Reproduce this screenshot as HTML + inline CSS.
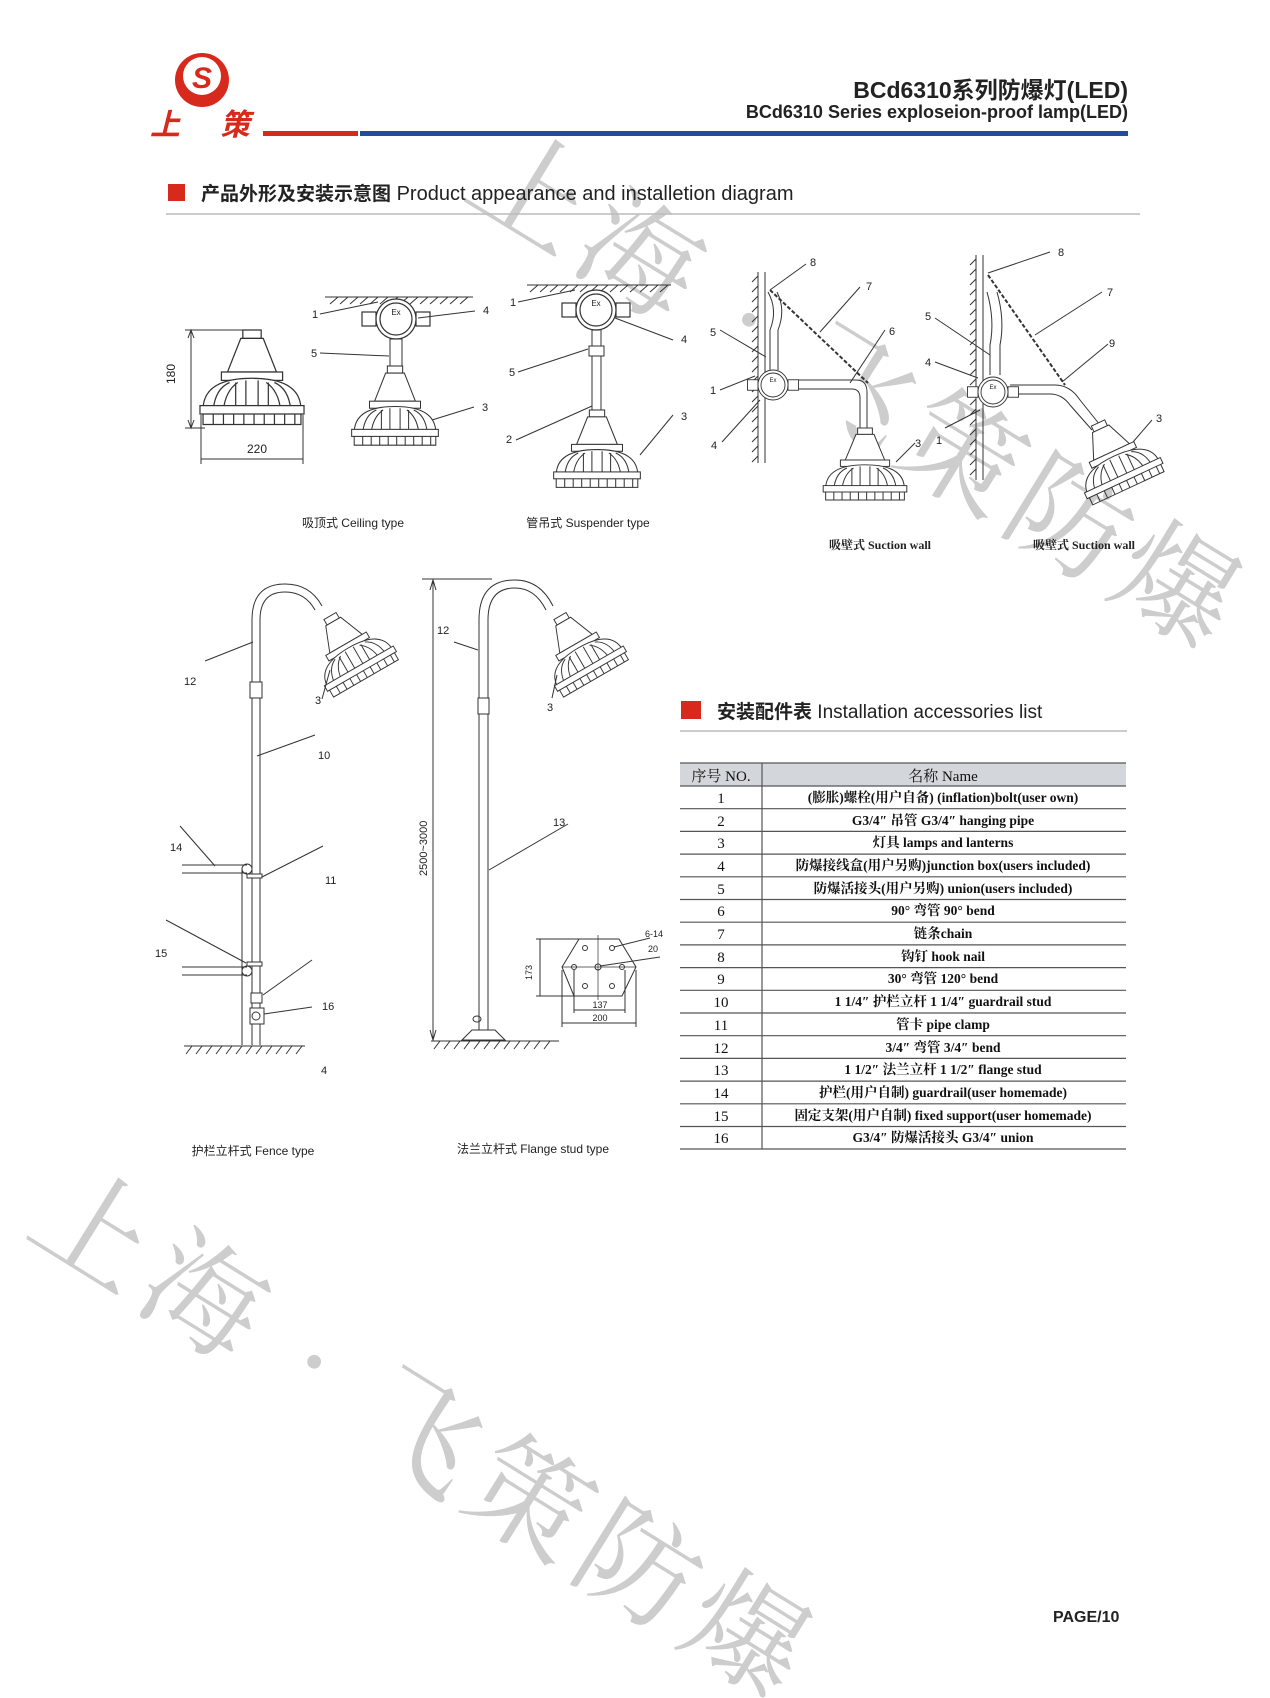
<!DOCTYPE html>
<html><head><meta charset="utf-8"><style>
html,body{margin:0;padding:0;background:#fff}
svg{display:block}
.t{font-family:"Liberation Sans","Noto Sans CJK SC",sans-serif}
.n{font-family:"Liberation Sans Narrow","Liberation Sans","Noto Sans CJK SC",sans-serif}
.s{font-family:"Liberation Serif","Noto Serif CJK SC",serif}
</style></head><body>
<svg width="1270" height="1698" viewBox="0 0 1270 1698" xmlns="http://www.w3.org/2000/svg">
<defs>
<g id="lamp" fill="#fff" stroke="#333" stroke-width="1.2">
  <rect x="-9" y="0" width="18" height="8"/>
  <polygon points="-11,8 11,8 24,40 -24,40"/>
  <rect x="-30" y="40" width="60" height="8"/>
  <path d="M-48,76 Q-48,46 0,46 Q48,46 48,76 Z"/>
  <path d="M-38,76 Q-36,56 -22,50 M-28,76 Q-26,58 -14,50 M-16,76 V50 M-6,76 V48 M6,76 V48 M16,76 V50 M28,76 Q26,58 14,50 M38,76 Q36,56 22,50" fill="none"/>
  <rect x="-51" y="72" width="102" height="8"/>
  <path d="M-48,80 V90 H48 V80 M-38,80 V90 M-28,80 V90 M-18,80 V90 M-8,80 V90 M2,80 V90 M12,80 V90 M22,80 V90 M32,80 V90 M42,80 V90" fill="none"/>
</g>
<g id="jbox" fill="#fff" stroke="#333" stroke-width="1.2">
  <rect x="-34" y="-7" width="14" height="14"/><rect x="20" y="-7" width="14" height="14"/>
  <circle r="20"/><circle r="16" fill="none"/>
  <text x="0" y="-4" font-size="8" text-anchor="middle" stroke="none" fill="#222" class="t">Ex</text>
</g>
</defs>

<g fill="#cdcdcd" font-family="'Noto Serif CJK SC','Noto Sans CJK SC',serif" font-size="118">
<text transform="translate(487,152) rotate(31.5)" dominant-baseline="central" letter-spacing="8">上海•飞策防爆</text>
<text transform="translate(50,1190) rotate(31.9)" dominant-baseline="central" letter-spacing="10">上海•飞策防爆</text>
</g>

<circle cx="202" cy="80" r="27" fill="#d8291d"/>
<circle cx="202" cy="76" r="19" fill="#fff"/>
<text x="202" y="88" font-size="30" font-weight="bold" text-anchor="middle" fill="#d8291d" class="t" font-style="italic">S</text>
<text x="150" y="135" font-size="30" font-weight="bold" fill="#d8291d" font-style="italic" class="t" textLength="100">上策</text>
<rect x="263" y="131" width="95" height="5" fill="#d8291d"/>
<rect x="360" y="131" width="768" height="5" fill="#1f4f9c"/>
<text x="1128" y="98" font-size="23" text-anchor="end" fill="#222" class="n" font-weight="bold">BCd6310系列防爆灯(LED)</text>
<text x="1128" y="118" font-size="18" text-anchor="end" fill="#222" class="n" font-weight="bold">BCd6310 Series exploseion-proof lamp(LED)</text>

<rect x="168" y="184" width="17" height="17" fill="#d8291d"/>
<text x="201" y="200" font-size="20" fill="#222" class="n"><tspan font-weight="bold" class="t" font-size="19">产品外形及安装示意图</tspan> Product appearance and installetion diagram</text>
<line x1="166" y1="214" x2="1140" y2="214" stroke="#bbb" stroke-width="1.5"/>

<g stroke="#333" stroke-width="1" fill="none" class="t">
<use href="#lamp" transform="translate(252,330) scale(1.02,1.05)"/>
<line x1="191" y1="330" x2="191" y2="428"/><line x1="185" y1="330" x2="245" y2="330"/><line x1="185" y1="428" x2="205" y2="428"/>
<path d="M188,338 L191,330 L194,338 M188,420 L191,428 L194,420" />
<line x1="201" y1="459" x2="303" y2="459"/><line x1="201" y1="415" x2="201" y2="464"/><line x1="303" y1="415" x2="303" y2="464"/>
<line x1="325" y1="297" x2="473" y2="297"/>
<path d="M330,304 l8,-7 M340,304 l8,-7 M350,304 l8,-7 M360,304 l8,-7 M370,304 l8,-7 M380,304 l8,-7 M390,304 l8,-7 M400,304 l8,-7 M410,304 l8,-7 M420,304 l8,-7 M430,304 l8,-7 M440,304 l8,-7 M450,304 l8,-7 M460,304 l8,-7"/>
<rect x="390" y="339" width="12" height="28" fill="#fff"/>
<use href="#jbox" transform="translate(396,319)"/>
<use href="#lamp" transform="translate(395,366) scale(0.85,0.88)"/>
<line x1="320" y1="314" x2="378" y2="302"/><line x1="475" y1="311" x2="418" y2="318"/><line x1="320" y1="353" x2="389" y2="356"/><line x1="474" y1="407" x2="432" y2="420"/>
<line x1="527" y1="285" x2="671" y2="285"/>
<path d="M530,292 l8,-7 M540,292 l8,-7 M550,292 l8,-7 M560,292 l8,-7 M570,292 l8,-7 M580,292 l8,-7 M590,292 l8,-7 M600,292 l8,-7 M610,292 l8,-7 M620,292 l8,-7 M630,292 l8,-7 M640,292 l8,-7 M650,292 l8,-7 M660,292 l8,-7"/>
<rect x="592" y="328" width="9" height="82" fill="#fff"/>
<rect x="589" y="346" width="15" height="10" fill="#fff"/>
<use href="#jbox" transform="translate(596,310)"/>
<use href="#lamp" transform="translate(597,410) scale(0.85,0.86)"/>
<line x1="518" y1="302" x2="575" y2="290"/><line x1="673" y1="340" x2="615" y2="318"/><line x1="518" y1="372" x2="588" y2="349"/><line x1="516" y1="440" x2="592" y2="406"/><line x1="673" y1="415" x2="640" y2="455"/>
<line x1="758" y1="272" x2="758" y2="463"/><line x1="765" y1="272" x2="765" y2="463"/>
<path d="M752,282 l6,-6 M752,292 l6,-6 M752,302 l6,-6 M752,312 l6,-6 M752,322 l6,-6 M752,332 l6,-6 M752,342 l6,-6 M752,352 l6,-6 M752,362 l6,-6 M752,372 l6,-6 M752,382 l6,-6 M752,392 l6,-6 M752,402 l6,-6 M752,412 l6,-6 M752,422 l6,-6 M752,432 l6,-6 M752,442 l6,-6 M752,452 l6,-6 M752,462 l6,-6"/>
<path d="M768,292 Q778,310 770,330 V370 M777,292 Q786,310 778,330 V370" />
<path d="M790,380 H856 Q867,380 867,392 V428 M790,389 H852 Q860,389 860,398 V428" fill="#fff"/>
<path d="M770,290 L868,383" stroke-dasharray="4,2" stroke-width="2"/>
<use href="#jbox" transform="translate(773,385) scale(0.75)"/>
<use href="#lamp" transform="translate(865,428) scale(0.82,0.8)"/>
<line x1="770" y1="290" x2="806" y2="264"/><line x1="820" y1="332" x2="860" y2="287"/><line x1="720" y1="330" x2="766" y2="357"/><line x1="850" y1="383" x2="885" y2="330"/><line x1="720" y1="390" x2="755" y2="376"/><line x1="722" y1="442" x2="760" y2="400"/><line x1="915" y1="443" x2="896" y2="462"/>
<line x1="976" y1="255" x2="976" y2="480"/><line x1="983" y1="255" x2="983" y2="480"/>
<path d="M970,265 l6,-6 M970,275 l6,-6 M970,285 l6,-6 M970,295 l6,-6 M970,305 l6,-6 M970,315 l6,-6 M970,325 l6,-6 M970,335 l6,-6 M970,345 l6,-6 M970,355 l6,-6 M970,365 l6,-6 M970,375 l6,-6 M970,385 l6,-6 M970,395 l6,-6 M970,405 l6,-6 M970,415 l6,-6 M970,425 l6,-6 M970,435 l6,-6 M970,445 l6,-6 M970,455 l6,-6 M970,465 l6,-6 M970,475 l6,-6"/>
<path d="M987,292 Q995,320 990,345 V375 M997,292 Q1005,320 1000,345 V375"/>
<path d="M1010,385 H1055 Q1070,385 1080,400 L1100,425 M1010,394 H1050 Q1062,394 1070,405 L1092,430" fill="#fff"/>
<path d="M988,275 L1065,385" stroke-dasharray="4,2" stroke-width="2"/>
<use href="#jbox" transform="translate(993,392) scale(0.75)"/>
<use href="#lamp" transform="translate(1098,423) rotate(-25) scale(0.82,0.8)"/>
<line x1="988" y1="273" x2="1050" y2="252"/><line x1="1035" y1="335" x2="1102" y2="292"/><line x1="935" y1="318" x2="990" y2="355"/><line x1="1062" y1="382" x2="1108" y2="344"/><line x1="935" y1="362" x2="978" y2="378"/><line x1="945" y1="428" x2="980" y2="410"/><line x1="1152" y1="420" x2="1133" y2="442"/>
<path d="M252,1045 V620 Q252,584 285,584 Q310,584 322,606 M260,1045 V620 Q260,592 285,592 Q305,592 315,610"/>
<use href="#lamp" transform="translate(330,616) rotate(-30) scale(0.78,0.8)"/>
<rect x="250" y="682" width="12" height="16" fill="#fff"/>
<line x1="184" y1="1046" x2="305" y2="1046"/>
<path d="M186,1054 l6,-8 M196,1054 l6,-8 M206,1054 l6,-8 M216,1054 l6,-8 M226,1054 l6,-8 M236,1054 l6,-8 M246,1054 l6,-8 M256,1054 l6,-8 M266,1054 l6,-8 M276,1054 l6,-8 M286,1054 l6,-8 M296,1054 l6,-8"/>
<line x1="182" y1="865" x2="247" y2="865"/><line x1="182" y1="873" x2="247" y2="873"/>
<line x1="182" y1="967" x2="247" y2="967"/><line x1="182" y1="975" x2="247" y2="975"/>
<line x1="242" y1="870" x2="242" y2="1045"/><circle cx="247" cy="869" r="5"/><circle cx="247" cy="971" r="5"/>
<rect x="247" y="874" width="15" height="4" fill="#fff"/><rect x="247" y="962" width="15" height="4" fill="#fff"/>
<rect x="251" y="993" width="11" height="10" fill="#fff"/><rect x="250" y="1008" width="14" height="16" fill="#fff"/><circle cx="256" cy="1016" r="4"/>
<line x1="205" y1="661" x2="253" y2="642"/><line x1="322" y1="699" x2="330" y2="670"/><line x1="315" y1="735" x2="257" y2="756"/><line x1="180" y1="826" x2="215" y2="866"/><line x1="323" y1="846" x2="262" y2="877"/><line x1="166" y1="920" x2="246" y2="963"/><line x1="312" y1="960" x2="263" y2="995"/><line x1="312" y1="1007" x2="264" y2="1014"/>
<line x1="422" y1="579" x2="492" y2="579"/><line x1="433" y1="580" x2="433" y2="1040"/>
<path d="M430,590 L433,580 L436,590 M430,1030 L433,1040 L436,1030"/>
<path d="M479,1038 V620 Q479,580 515,580 Q540,580 553,606 M488,1038 V620 Q488,588 515,588 Q535,588 546,610"/>
<use href="#lamp" transform="translate(560,616) rotate(-30) scale(0.78,0.8)"/>
<rect x="478" y="698" width="11" height="16" fill="#fff"/>
<path d="M462,1040 L472,1030 H495 L505,1040 Z" fill="#fff"/><ellipse cx="477" cy="1019" rx="4" ry="3"/>
<line x1="431" y1="1041" x2="559" y2="1041"/>
<path d="M434,1049 l6,-8 M444,1049 l6,-8 M454,1049 l6,-8 M464,1049 l6,-8 M474,1049 l6,-8 M484,1049 l6,-8 M494,1049 l6,-8 M504,1049 l6,-8 M514,1049 l6,-8 M524,1049 l6,-8 M534,1049 l6,-8 M544,1049 l6,-8"/>
<line x1="454" y1="642" x2="478" y2="650"/><line x1="552" y1="698" x2="557" y2="675"/><line x1="568" y1="824" x2="489" y2="870"/>
<polygon points="579,939 619,939 636,967 622,996 574,996 562,967"/>
<line x1="598" y1="935" x2="598" y2="1000" stroke-width="0.7"/><line x1="562" y1="967" x2="636" y2="967" stroke-width="0.7"/>
<circle cx="585" cy="948" r="2.5"/><circle cx="612" cy="948" r="2.5"/><circle cx="574" cy="967" r="2.5"/><circle cx="598" cy="967" r="3"/><circle cx="622" cy="967" r="2.5"/><circle cx="585" cy="986" r="2.5"/><circle cx="612" cy="986" r="2.5"/>
<line x1="540" y1="939" x2="540" y2="996"/><line x1="536" y1="939" x2="580" y2="939"/><line x1="536" y1="996" x2="575" y2="996"/>
<line x1="574" y1="1010" x2="625" y2="1010"/><line x1="562" y1="1023" x2="636" y2="1023"/><line x1="574" y1="970" x2="574" y2="1013"/><line x1="625" y1="970" x2="625" y2="1013"/><line x1="562" y1="970" x2="562" y2="1027"/><line x1="636" y1="970" x2="636" y2="1027"/>
<line x1="614" y1="947" x2="650" y2="938"/><line x1="600" y1="966" x2="660" y2="957"/>
</g>

<g font-size="11" fill="#222" class="t">
<text x="175" y="384" transform="rotate(-90 175 384)" font-size="12">180</text>
<text x="257" y="453" text-anchor="middle" font-size="12">220</text>
<text x="312" y="318">1</text><text x="483" y="314">4</text><text x="311" y="357">5</text><text x="482" y="411">3</text>
<text x="510" y="306">1</text><text x="681" y="343">4</text><text x="509" y="376">5</text><text x="506" y="443">2</text><text x="681" y="420">3</text>
<text x="810" y="266">8</text><text x="866" y="290">7</text><text x="710" y="336">5</text><text x="889" y="335">6</text><text x="710" y="394">1</text><text x="711" y="449">4</text><text x="915" y="447">3</text>
<text x="1058" y="256">8</text><text x="1107" y="296">7</text><text x="925" y="320">5</text><text x="1109" y="347">9</text><text x="925" y="366">4</text><text x="936" y="444">1</text><text x="1156" y="422">3</text>
<text x="184" y="685">12</text><text x="315" y="704">3</text><text x="318" y="759">10</text><text x="170" y="851">14</text><text x="325" y="884">11</text><text x="155" y="957">15</text><text x="322" y="1010">16</text><text x="321" y="1074">4</text>
<text x="437" y="634">12</text><text x="547" y="711">3</text><text x="553" y="826">13</text>
<text x="427" y="876" transform="rotate(-90 427 876)">2500~3000</text>
<text x="532" y="980" transform="rotate(-90 532 980)" font-size="9">173</text>
<text x="600" y="1008" text-anchor="middle" font-size="9">137</text>
<text x="600" y="1021" text-anchor="middle" font-size="9">200</text>
<text x="645" y="937" font-size="9">6-14</text><text x="648" y="952" font-size="9">20</text>
<text x="353" y="527" text-anchor="middle" font-size="12">吸顶式 Ceiling type</text>
<text x="588" y="527" text-anchor="middle" font-size="12">管吊式 Suspender type</text>
<text x="880" y="549" text-anchor="middle" font-size="12" class="s" font-weight="bold">吸壁式 Suction wall</text>
<text x="1084" y="549" text-anchor="middle" font-size="12" class="s" font-weight="bold">吸壁式 Suction wall</text>
<text x="253" y="1155" text-anchor="middle" font-size="12">护栏立杆式 Fence type</text>
<text x="533" y="1153" text-anchor="middle" font-size="12">法兰立杆式 Flange stud type</text>
</g>

<rect x="681" y="701" width="20" height="18" fill="#d8291d"/>
<text x="717" y="718" font-size="19" fill="#222" class="t"><tspan font-weight="bold">安装配件表</tspan> Installation accessories list</text>
<line x1="680" y1="731" x2="1127" y2="731" stroke="#bbb" stroke-width="1.5"/>

<rect x="680" y="763" width="446" height="23" fill="#d3d7db"/>
<g stroke="#555" stroke-width="1.2">
<line x1="680" y1="763" x2="1126" y2="763"/>
<line x1="680" y1="786" x2="1126" y2="786"/><line x1="680" y1="808.7" x2="1126" y2="808.7"/><line x1="680" y1="831.4" x2="1126" y2="831.4"/><line x1="680" y1="854.1" x2="1126" y2="854.1"/><line x1="680" y1="876.8" x2="1126" y2="876.8"/><line x1="680" y1="899.5" x2="1126" y2="899.5"/><line x1="680" y1="922.2" x2="1126" y2="922.2"/><line x1="680" y1="944.9" x2="1126" y2="944.9"/><line x1="680" y1="967.6" x2="1126" y2="967.6"/><line x1="680" y1="990.3" x2="1126" y2="990.3"/><line x1="680" y1="1013" x2="1126" y2="1013"/><line x1="680" y1="1035.7" x2="1126" y2="1035.7"/><line x1="680" y1="1058.4" x2="1126" y2="1058.4"/><line x1="680" y1="1081.1" x2="1126" y2="1081.1"/><line x1="680" y1="1103.8" x2="1126" y2="1103.8"/><line x1="680" y1="1126.5" x2="1126" y2="1126.5"/><line x1="680" y1="1149" x2="1126" y2="1149"/>
<line x1="762" y1="763" x2="762" y2="1149"/>
</g>
<g font-size="15" fill="#111" class="s" text-anchor="middle">
<text x="721" y="781">序号 NO.</text><text x="943" y="781">名称 Name</text>
<g font-size="15"><text x="721" y="803">1</text><text x="721" y="826">2</text><text x="721" y="848">3</text><text x="721" y="871">4</text><text x="721" y="894">5</text><text x="721" y="916">6</text><text x="721" y="939">7</text><text x="721" y="962">8</text><text x="721" y="984">9</text><text x="721" y="1007">10</text><text x="721" y="1030">11</text><text x="721" y="1053">12</text><text x="721" y="1075">13</text><text x="721" y="1098">14</text><text x="721" y="1121">15</text><text x="721" y="1143">16</text></g>
<g font-size="13.5" font-weight="bold">
<text x="943" y="802">(膨胀)螺栓(用户自备) (inflation)bolt(user own)</text>
<text x="943" y="825">G3/4″  吊管  G3/4″  hanging pipe</text>
<text x="943" y="847">灯具  lamps and lanterns</text>
<text x="943" y="870">防爆接线盒(用户另购)junction box(users included)</text>
<text x="943" y="893">防爆活接头(用户另购) union(users included)</text>
<text x="943" y="915">90°  弯管  90°  bend</text>
<text x="943" y="938">链条chain</text>
<text x="943" y="961">钩钉  hook nail</text>
<text x="943" y="983">30°  弯管  120°  bend</text>
<text x="943" y="1006">1 1/4″  护栏立杆  1 1/4″  guardrail stud</text>
<text x="943" y="1029">管卡  pipe clamp</text>
<text x="943" y="1052">3/4″  弯管  3/4″  bend</text>
<text x="943" y="1074">1 1/2″  法兰立杆  1 1/2″  flange stud</text>
<text x="943" y="1097">护栏(用户自制)  guardrail(user homemade)</text>
<text x="943" y="1120">固定支架(用户自制) fixed support(user homemade)</text>
<text x="943" y="1142">G3/4″  防爆活接头  G3/4″  union</text>
</g>
</g>

<text x="1053" y="1622" font-size="16" font-weight="bold" fill="#222" class="t">PAGE/10</text>
</svg>
</body></html>
